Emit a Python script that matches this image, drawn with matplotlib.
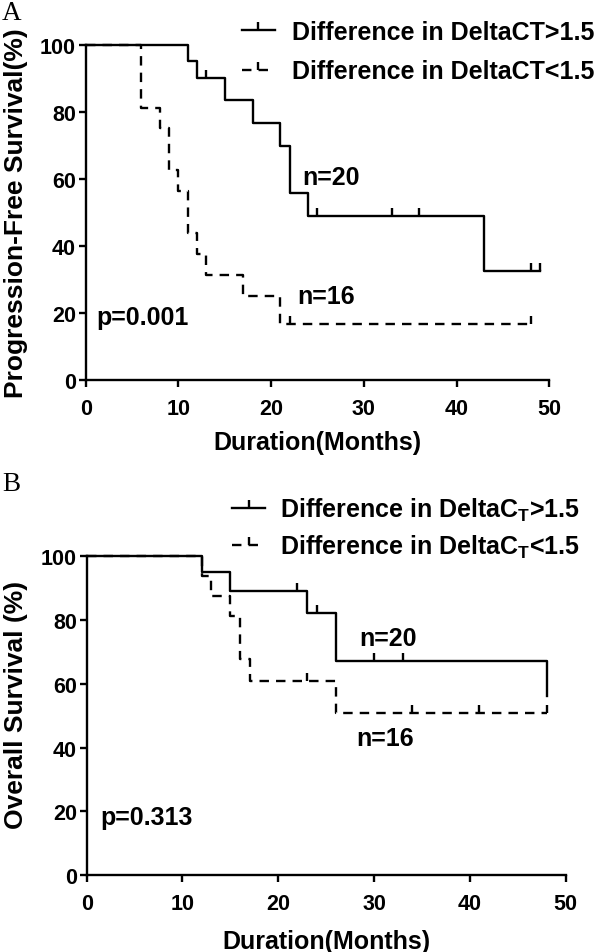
import matplotlib.pyplot as plt
from matplotlib.lines import Line2D

plt.rcParams['font.family'] = 'Liberation Sans'
plt.rcParams['font.weight'] = 'bold'
plt.rcParams['axes.labelweight'] = 'bold'
plt.rcParams['mathtext.fontset'] = 'custom'
plt.rcParams['mathtext.bf'] = 'Liberation Sans:bold'
plt.rcParams['mathtext.default'] = 'bf'

# Panel A: progression-free survival (step points: time, % surviving)
pfs_hi_t = [0, 11, 12, 15, 18, 21, 22, 24, 43, 49]
pfs_hi_s = [100, 95, 90, 83.6, 76.6, 69.7, 55.7, 48.8, 32.5, 32.5]
pfs_hi_cens_t = [13, 25, 33, 36, 48, 49]
pfs_hi_cens_s = [90, 48.8, 48.8, 48.8, 32.5, 32.5]

pfs_lo_t = [0, 6, 8, 9, 10, 11, 12, 13, 17, 21, 48]
pfs_lo_s = [100, 81.25, 75, 62.5, 56.25, 43.75, 37.5, 31.25, 25, 16.7, 16.7]
pfs_lo_cens_t = [22, 48]
pfs_lo_cens_s = [16.7, 16.7]

# Panel B: overall survival
os_hi_t = [0, 12, 15, 23, 26, 48]
os_hi_s = [100, 95, 89.1, 82.2, 67.3, 56.1]
os_hi_cens_t = [22, 24, 30, 33]
os_hi_cens_s = [89.1, 82.2, 67.3, 67.3]

os_lo_t = [0, 12, 13, 15, 16, 17, 26, 48]
os_lo_s = [100, 93.75, 87.5, 81.25, 67.7, 60.9, 50.8, 50.8]
os_lo_cens_t = [23, 34, 41, 48]
os_lo_cens_s = [60.9, 50.8, 50.8, 50.8]

xticks = [0, 10, 20, 30, 40, 50]
yticks = [0, 20, 40, 60, 80, 100]

LW = 1.7
DASH = (0, (4, 3))


def km_panel(ax, hi, lo, ylabel, notes, xlabelpad):
    (ht, hs, hct, hcs), (lt, ls, lct, lcs) = hi, lo
    ax.plot(lt, ls, drawstyle='steps-post', color='black', lw=LW, ls=DASH, clip_on=False)
    ax.plot(lct, lcs, ls='none', marker=2, ms=5.5, mew=LW, color='black', clip_on=False)
    ax.plot(ht, hs, drawstyle='steps-post', color='black', lw=LW, clip_on=False)
    ax.plot(hct, hcs, ls='none', marker=2, ms=5.5, mew=LW, color='black', clip_on=False)

    ax.set_xlim(0, 50)
    ax.set_ylim(0, 100)
    ax.set_xticks(xticks)
    ax.set_yticks(yticks)
    for s in ['top', 'right']:
        ax.spines[s].set_visible(False)
    for s in ['left', 'bottom']:
        ax.spines[s].set_linewidth(LW)
    ax.tick_params(axis='both', length=5, width=LW, labelsize=15.5)
    ax.tick_params(axis='x', pad=8)
    ax.tick_params(axis='y', pad=2)
    for lbl in ax.get_xticklabels() + ax.get_yticklabels():
        lbl.set_fontweight('bold')
    ax.set_xlabel('Duration(Months)', fontsize=18, fontweight='bold', labelpad=xlabelpad)
    ax.set_ylabel(ylabel, fontsize=19, fontweight='bold')

    for txt, x, y in notes:
        ax.text(x, y, txt, fontsize=18, fontweight='bold', ha='left', va='center')

    handles = [
        Line2D([0], [0], color='black', lw=LW, marker=2, ms=5.5, mew=LW),
        Line2D([0], [0], color='black', lw=LW, ls=DASH, marker=2, ms=5.5, mew=LW),
    ]
    return handles


fig = plt.figure(figsize=(6, 9.53), dpi=100)
axA = fig.add_axes([0.1428, 0.6005, 0.7727, 0.3515])
axB = fig.add_axes([0.1445, 0.0808, 0.7983, 0.3344])

hA = km_panel(axA,
              (pfs_hi_t, pfs_hi_s, pfs_hi_cens_t, pfs_hi_cens_s),
              (pfs_lo_t, pfs_lo_s, pfs_lo_cens_t, pfs_lo_cens_s),
              'Progression-Free Survival(%)',
              [('n=20', 23.4, 60.6), ('n=16', 22.8, 25.1), ('p=0.001', 1.1, 18.6)], 8)
axA.yaxis.set_label_coords(-0.1245, 0.5)
axA.legend(hA, ['Difference in DeltaCT>1.5', 'Difference in DeltaCT<1.5'],
           loc='upper left', bbox_to_anchor=(0.403, 0.978), bbox_transform=fig.transFigure,
           frameon=False, prop={'size': 18, 'weight': 'bold'}, handlelength=1.32,
           handletextpad=0.7, labelspacing=0.62, borderpad=0, borderaxespad=0, numpoints=1)

hB = km_panel(axB,
              (os_hi_t, os_hi_s, os_hi_cens_t, os_hi_cens_s),
              (os_lo_t, os_lo_s, os_lo_cens_t, os_lo_cens_s),
              'Overall Survival (%)',
              [('n=20', 28.5, 74.4), ('n=16', 28.1, 43.0), ('p=0.313', 1.46, 18.2)], 11)
axB.yaxis.set_label_coords(-0.1225, 0.537)
axB.legend(hB, ['Difference in DeltaC$_T$>1.5', 'Difference in DeltaC$_T$<1.5'],
           loc='upper left', bbox_to_anchor=(0.387, 0.479), bbox_transform=fig.transFigure,
           frameon=False, prop={'size': 18, 'weight': 'bold'}, handlelength=1.32,
           handletextpad=0.6, labelspacing=0.42, borderpad=0, borderaxespad=0, numpoints=1)

fig.text(0.003, 0.999, 'A', fontsize=19.5, family='Liberation Serif', weight='normal', va='top')
fig.text(0.003, 0.505, 'B', fontsize=19.5, family='Liberation Serif', weight='normal', va='top')

fig.savefig('out.png', dpi=100)
